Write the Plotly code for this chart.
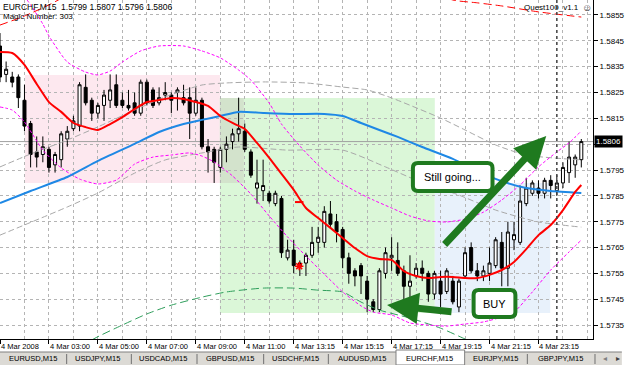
import plotly.graph_objects as go

# ---------------- data (EURCHF M15) ----------------
bars = list(range(96))
opens = [1.5843,1.5832,1.5831,1.5831,1.5822,1.5813,1.5802,1.5801,1.5803,1.5797,
         1.5799,1.5807,1.5811,1.5812,1.5827,1.5822,1.5817,1.5820,1.5822,1.5828,
         1.5822,1.5820,1.5821,1.5817,1.5829,1.5826,1.5821,1.5824,1.5824,1.5825,
         1.5823,1.5823,1.5817,1.5822,1.5804,1.5803,1.5796,1.5803,1.5806,1.5809,
         1.5810,1.5802,1.5788,1.5787,1.5786,1.5782,1.5784,1.5761,1.5764,1.5759,
         1.5759,1.5762,1.5767,1.5767,1.5778,1.5775,1.5772,1.5761,1.5756,1.5758,
         1.5752,1.5744,1.5741,1.5755,1.5761,1.5760,1.5756,1.5750,1.5754,1.5757,
         1.5755,1.5747,1.5752,1.5748,1.5752,1.5742,1.5754,1.5765,1.5756,1.5754,
         1.5755,1.5758,1.5767,1.5757,1.5768,1.5767,1.5782,1.5786,1.5788,1.5786,
         1.5791,1.5787,1.5790,1.5794,1.5797,1.5799]
highs = [1.5848,1.5837,1.5833,1.5832,1.5828,1.5814,1.5808,1.5808,1.5804,1.5802,
         1.5810,1.5812,1.5816,1.5829,1.5832,1.5823,1.5821,1.5826,1.5832,1.5832,
         1.5825,1.5826,1.5825,1.5830,1.5830,1.5827,1.5827,1.5829,1.5825,1.5827,
         1.5828,1.5827,1.5827,1.5823,1.5807,1.5804,1.5804,1.5808,1.5811,1.5823,
         1.5813,1.5803,1.5799,1.5799,1.5787,1.5787,1.5785,1.5768,1.5768,1.5760,
         1.5763,1.5773,1.5773,1.5781,1.5783,1.5778,1.5773,1.5763,1.5757,1.5759,
         1.5754,1.5745,1.5757,1.5765,1.5769,1.5767,1.5758,1.5762,1.5759,1.5760,
         1.5756,1.5756,1.5756,1.5757,1.5754,1.5753,1.5765,1.5767,1.5759,1.5758,
         1.5765,1.5769,1.5771,1.5775,1.5775,1.5789,1.5792,1.5791,1.5791,1.5792,
         1.5793,1.5793,1.5798,1.5806,1.5801,1.5807]
lows = [1.5829,1.5829,1.5827,1.5819,1.5810,1.5796,1.5796,1.5798,1.5794,1.5794,
        1.5796,1.5804,1.5810,1.5810,1.5820,1.5814,1.5815,1.5814,1.5819,1.5819,
        1.5819,1.5818,1.5816,1.5816,1.5820,1.5819,1.5820,1.5822,1.5817,1.5818,
        1.5820,1.5807,1.5816,1.5803,1.5794,1.5790,1.5794,1.5798,1.5803,1.5806,
        1.5802,1.5792,1.5782,1.5783,1.5782,1.5781,1.5761,1.5760,1.5755,1.5754,
        1.5754,1.5761,1.5763,1.5765,1.5773,1.5767,1.5757,1.5751,1.5750,1.5747,
        1.5740,1.5740,1.5740,1.5753,1.5756,1.5754,1.5744,1.5743,1.5753,1.5752,
        1.5744,1.5745,1.5742,1.5747,1.5743,1.5740,1.5753,1.5755,1.5752,1.5752,
        1.5752,1.5757,1.5750,1.5750,1.5764,1.5766,1.5781,1.5785,1.5784,1.5784,
        1.5784,1.5785,1.5788,1.5790,1.5792,1.5796]
closes = [1.5831,1.5834,1.5829,1.5823,1.5812,1.5801,1.5800,1.5804,1.5796,1.5801,
          1.5809,1.5810,1.5814,1.5828,1.5821,1.5817,1.5820,1.5824,1.5826,1.5820,
          1.5820,1.5819,1.5817,1.5829,1.5821,1.5820,1.5823,1.5825,1.5822,1.5826,
          1.5821,1.5817,1.5822,1.5804,1.5802,1.5798,1.5803,1.5805,1.5809,1.5811,
          1.5803,1.5793,1.5790,1.5789,1.5783,1.5786,1.5763,1.5764,1.5758,1.5758,
          1.5762,1.5767,1.5769,1.5779,1.5774,1.5771,1.5761,1.5755,1.5754,1.5754,
          1.5745,1.5741,1.5756,1.5763,1.5762,1.5755,1.5750,1.5752,1.5757,1.5755,
          1.5747,1.5755,1.5747,1.5756,1.5744,1.5752,1.5763,1.5756,1.5754,1.5756,
          1.5759,1.5768,1.5757,1.5771,1.5770,1.5783,1.5788,1.5790,1.5786,1.5791,
          1.5789,1.5790,1.5796,1.5800,1.5800,1.5806]

# fast moving average (red)
ma_fast_x = [0,2,4,6,8,10,12,14,16,18,20,22,24,26,28,30,32,34,36,38,40,42,44,46,48,
             50,52,54,56,58,60,62,64,66,68,70,72,74,76,78,80,82,84,86,88,90,92,94,95]
ma_fast = [1.58407,1.58403,1.58357,1.58283,1.58213,1.58175,1.58132,1.58116,1.58105,1.58128,
           1.58155,1.58186,1.58213,1.58221,1.58229,1.58225,1.58213,1.58198,1.58159,1.58132,
           1.58109,1.58055,1.57997,1.57935,1.57873,1.57803,1.57764,1.57726,1.57687,1.57648,
           1.57617,1.57606,1.57602,1.57559,1.57540,1.57532,1.57536,1.57536,1.57532,1.57532,
           1.57544,1.57563,1.57594,1.57644,1.57698,1.57737,1.57795,1.57865,1.57892]

# envelopes around fast MA (magenta)
env_up_x = [3,5,7,8,11,14,16,18,20,23,26,30,33,36,39,41,44,46,49,52,55,58,61,64,67,70,73,76,79,82,85,88,91,93,95]
env_up = [1.58655,1.58589,1.58515,1.58469,1.58368,1.58329,1.58318,1.58333,1.58368,1.58411,
          1.58430,1.58430,1.58411,1.58384,1.58337,1.58298,1.58209,1.58128,1.58043,1.57969,
          1.57911,1.57869,1.57834,1.57803,1.57772,1.57753,1.57749,1.57760,1.57787,1.57834,
          1.57892,1.57962,1.58020,1.58055,1.58101]
env_dn_x = [0,2,4,7,10,13,16,19,22,25,28,31,33,35,38,41,44,47,50,53,56,59,61,64,67,70,73,76,79,82,84,87,90,93,95]
env_dn = [1.58194,1.58182,1.58136,1.58027,1.57958,1.57915,1.57896,1.57911,1.57973,1.58000,
          1.58008,1.58016,1.58004,1.57981,1.57927,1.57857,1.57772,1.57691,1.57617,1.57547,
          1.57478,1.57424,1.57400,1.57389,1.57358,1.57350,1.57346,1.57354,1.57362,1.57381,
          1.57400,1.57478,1.57563,1.57633,1.57679]

# slow moving average (blue)
ma_slow_x = [0,5,11,16,22,26,30,33,36,39,43,48,53,56,59,62,65,69,74,78,82,86,90,95]
ma_slow = [1.57822,1.57869,1.57923,1.57985,1.58051,1.58097,1.58128,1.58144,1.58159,1.58175,
           1.58171,1.58167,1.58167,1.58159,1.58132,1.58105,1.58078,1.58039,1.57993,1.57946,
           1.57907,1.57880,1.57869,1.57861]

# inner envelopes around slow MA (gray)
gray_up_x = [0,5,11,16,22,27,33,37,43,50,56,60,64,72,76,81,86,95]
gray_up = [1.57962,1.58012,1.58066,1.58117,1.58182,1.58233,1.58279,1.58287,1.58291,1.58287,
           1.58271,1.58260,1.58229,1.58151,1.58105,1.58047,1.58008,1.57989]
gray_dn_x = [0,11,16,22,27,33,39,47,56,63,68,75,81,88,95]
gray_dn = [1.57698,1.57807,1.57861,1.57938,1.57989,1.58016,1.58039,1.58027,1.58027,1.57962,
           1.57911,1.57853,1.57795,1.57749,1.57729]

# outer envelopes around slow MA (red top, green bottom)
outer_up_x = [0,4,8,12,30,50,70,74,78,82,88,95]
outer_up = [1.58511,1.58546,1.58589,1.58639,1.58840,1.58848,1.58647,1.58608,1.58597,1.58585,1.58562,1.58542]
outer_dn_x = [12,15,20,24,28,33,37,43,48,52,56,59,62,67,72,76,80]
outer_dn = [1.57234,1.57292,1.57350,1.57393,1.57427,1.57458,1.57478,1.57493,1.57493,1.57485,
            1.57478,1.57439,1.57408,1.57377,1.57338,1.57296,1.57253]

# order marks
mark_dash_x, mark_dash_y = [48.9], [1.57826]
mark_star_x, mark_star_y = [48.9], [1.57578]

current_price = 1.5806
price_ticks = [1.5735,1.5745,1.5755,1.5765,1.5775,1.5785,1.5795,1.5805,1.5815,1.5825,1.5835,1.5845,1.5855]
price_labels = ["1.5735","1.5745","1.5755","1.5765","1.5775","1.5785","1.5795","",
                "1.5815","1.5825","1.5835","1.5845","1.5855"]
time_ticks = [0,8,16,24,32,40,48,56,64,72,80,88]
time_labels = ["4 Mar 2008","4 Mar 03:00","4 Mar 05:00","4 Mar 07:00","4 Mar 09:00","4 Mar 11:00",
               "4 Mar 13:15","4 Mar 15:15","4 Mar 17:15","4 Mar 19:15","4 Mar 21:15","4 Mar 23:15"]
day_separator_bar = 91
tabs = ["EURUSD,M15","USDJPY,M15","USDCAD,M15","GBPUSD,M15","USDCHF,M15","AUDUSD,M15",
        "EURCHF,M15","EURJPY,M15","GBPJPY,M15"]

# ---------------- layout helpers (pixel -> paper) ----------------
W, H = 625, 365
PL, PR, PT, PB = 0, 596, 0, 339
def PX(x): return (x - PL) / (PR - PL)
def PY(y): return 1 - (y - PT) / (PB - PT)

FONT = "Liberation Sans, Arial, sans-serif"
GREEN = "#1F7A1F"

fig = go.Figure()

fig.add_trace(go.Candlestick(
    x=bars, open=opens, high=highs, low=lows, close=closes,
    increasing=dict(line=dict(color="black", width=1), fillcolor="white"),
    decreasing=dict(line=dict(color="black", width=1), fillcolor="black"),
    whiskerwidth=0, showlegend=False, hoverinfo="skip"))

def line(x, y, color, width, dash="solid"):
    fig.add_trace(go.Scatter(x=x, y=y, mode="lines",
                             line=dict(color=color, width=width, dash=dash, shape="spline", smoothing=0.6),
                             showlegend=False, hoverinfo="skip"))

line(gray_up_x, gray_up, "#A8A8A8", 1, "6px,3px")
line(gray_dn_x, gray_dn, "#A8A8A8", 1, "6px,3px")
line(outer_up_x, outer_up, "#FF0000", 1, "8px,4px")
line(outer_dn_x, outer_dn, "#2E9E5B", 1, "8px,4px")
line(env_up_x, env_up, "#FF00FF", 1, "3px,2px")
line(env_dn_x, env_dn, "#FF00FF", 1, "3px,2px")
line(ma_slow_x, ma_slow, "#1E88E5", 2)
line(ma_fast_x, ma_fast, "#FF0000", 2)

fig.add_trace(go.Scatter(x=mark_dash_x, y=mark_dash_y, mode="markers",
                         marker=dict(symbol="line-ew", size=6, color="red", line=dict(color="red", width=2)),
                         showlegend=False, hoverinfo="skip"))
fig.add_trace(go.Scatter(x=mark_star_x, y=mark_star_y, mode="markers",
                         marker=dict(symbol="asterisk-open", size=7, color="red", line=dict(color="red", width=1.5)),
                         showlegend=False, hoverinfo="skip"))

shapes = []
def rect_px(x0, y0, x1, y1, fill, layer="below", line_color=None, lw=0):
    shapes.append(dict(type="rect", xref="paper", yref="paper", x0=PX(x0), x1=PX(x1), y0=PY(y0), y1=PY(y1),
                       fillcolor=fill, line=dict(width=lw, color=line_color or fill), layer=layer))

# zones
rect_px(25, 75, 221, 183, "#FDE8EF")
rect_px(221, 98, 437, 313, "#DBF7D8")
rect_px(221, 98, 245, 183, "#D3E3CC")
rect_px(437, 183, 553, 313, "#E8F1FB")

# current price line
shapes.append(dict(type="line", xref="paper", yref="y", x0=0, x1=1, y0=current_price, y1=current_price,
                   line=dict(color="#A0A0A0", width=1), layer="below"))
# day separator
shapes.append(dict(type="line", xref="x", yref="paper", x0=day_separator_bar, x1=day_separator_bar, y0=0, y1=1,
                   line=dict(color="#404040", width=1.5, dash="dot"), layer="above"))

def rrect_path(x0, y0, x1, y1, r):
    return (f"M {PX(x0+r)},{PY(y0)} L {PX(x1-r)},{PY(y0)} Q {PX(x1)},{PY(y0)} {PX(x1)},{PY(y0+r)} "
            f"L {PX(x1)},{PY(y1-r)} Q {PX(x1)},{PY(y1)} {PX(x1-r)},{PY(y1)} "
            f"L {PX(x0+r)},{PY(y1)} Q {PX(x0)},{PY(y1)} {PX(x0)},{PY(y1-r)} "
            f"L {PX(x0)},{PY(y0+r)} Q {PX(x0)},{PY(y0)} {PX(x0+r)},{PY(y0)} Z")

shapes.append(dict(type="path", xref="paper", yref="paper", path=rrect_path(415, 163, 495, 191, 5),
                   fillcolor="white", line=dict(color=GREEN, width=4), layer="above"))
shapes.append(dict(type="path", xref="paper", yref="paper", path=rrect_path(476, 290, 518, 317, 5),
                   fillcolor="white", line=dict(color=GREEN, width=4), layer="above"))

# tab bar
rect_px(0, 352, 625, 365, "#DCDAD5", layer="above")
shapes.append(dict(type="line", xref="paper", yref="paper", x0=PX(0), x1=PX(625), y0=PY(352), y1=PY(352),
                   line=dict(color="#808080", width=1), layer="above"))
rect_px(398, 350, 467, 365, "#FFFFFF", layer="above", line_color="#808080", lw=1)

annotations = []
def text_px(x, y, t, size=7.5, xanchor="left", yanchor="top", color="black"):
    annotations.append(dict(xref="paper", yref="paper", x=PX(x), y=PY(y), text=t, showarrow=False,
                            xanchor=xanchor, yanchor=yanchor, font=dict(family=FONT, size=size, color=color)))

text_px(1, 0, "EURCHF,M15&nbsp;&nbsp;1.5799&nbsp;1.5807&nbsp;1.5796&nbsp;1.5806", size=8.5)
text_px(1, 9.5, "Magic Number: 303", size=8)
text_px(584, 1, "Quest100_v1.1", size=8, xanchor="right")
text_px(590, 0, "☺", size=10, xanchor="center", color="#404040")

for b, lab in zip(time_ticks, time_labels):
    annotations.append(dict(xref="x", yref="paper", x=b, y=PY(340), text=lab, showarrow=False,
                            xanchor="left", yanchor="top", xshift=-1, font=dict(family=FONT, size=7.5, color="black")))

annotations.append(dict(xref="paper", yref="y", x=1, y=current_price, text="1.5806", showarrow=False,
                        xanchor="left", yanchor="middle", xshift=1, bgcolor="black", borderpad=1,
                        font=dict(family=FONT, size=8, color="white")))

text_px(455, 177, "Still going...", size=11, xanchor="center", yanchor="middle")
text_px(497, 303.5, "BUY", size=11, xanchor="center", yanchor="middle")

# arrows
def arrow(tip, tail):
    annotations.append(dict(xref="paper", yref="paper", x=PX(tip[0]), y=PY(tip[1]), ax=tail[0]-tip[0], ay=tail[1]-tip[1],
                            axref="pixel", ayref="pixel", text="", showarrow=True, arrowhead=2, arrowsize=0.9,
                            arrowwidth=7, arrowcolor=GREEN, standoff=0))
arrow((549, 136), (446, 246))
arrow((389, 305), (455, 312))

# tabs text
tab_centers = [33, 98, 164, 231, 297, 364, 432, 498, 563]
for c, t in zip(tab_centers, tabs):
    text_px(c, 358.5, t, size=7.5, xanchor="center", yanchor="middle")
for sx in [67, 132, 198, 265, 330, 530, 598]:
    shapes.append(dict(type="line", xref="paper", yref="paper", x0=PX(sx), x1=PX(sx), y0=PY(354), y1=PY(364),
                       line=dict(color="#707070", width=1), layer="above"))
text_px(608, 358.5, "◂", size=8, xanchor="center", yanchor="middle", color="#808080")
text_px(621, 358.5, "▸", size=8, xanchor="center", yanchor="middle", color="#404040")

fig.update_layout(
    width=W, height=H, margin=dict(l=PL, r=W-PR, t=PT, b=H-PB),
    paper_bgcolor="white", plot_bgcolor="white",
    font=dict(family=FONT, size=7.5, color="black"),
    shapes=shapes, annotations=annotations, showlegend=False,
    xaxis=dict(range=[0, 96.91], rangeslider=dict(visible=False), tickvals=time_ticks, showticklabels=False,
               ticks="outside", ticklen=4, tickcolor="black", showline=True, linecolor="black", linewidth=1,
               showgrid=True, gridcolor="#B4B4B4", griddash="3px,3px", gridwidth=1, zeroline=False,
               minor=dict(tick0=0, dtick=4, showgrid=True, gridcolor="#B4B4B4", griddash="3px,3px", ticks="")),
    yaxis=dict(range=[1.57296, 1.58608], side="right", tickvals=price_ticks, ticktext=price_labels,
               ticks="outside", ticklen=4, tickcolor="black", showline=True, linecolor="black", linewidth=1,
               showgrid=True, gridcolor="#B4B4B4", griddash="3px,3px", gridwidth=1, zeroline=False,
               tickfont=dict(family=FONT, size=8, color="black")),
)

fig.write_html("out.html")
